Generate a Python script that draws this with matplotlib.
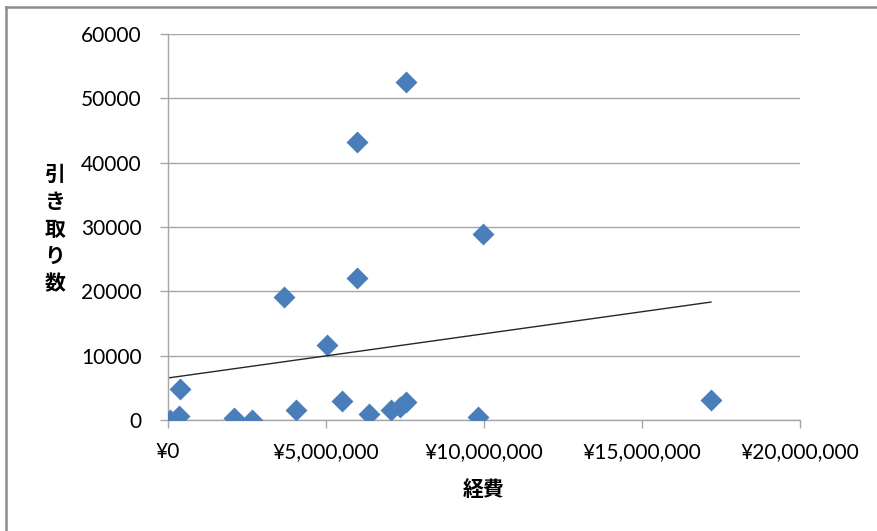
import numpy as np
import matplotlib
matplotlib.use("Agg")
import matplotlib.pyplot as plt
from matplotlib.lines import Line2D
from matplotlib.ticker import FuncFormatter

plt.rcParams['font.family'] = ['Lato', 'Noto Sans CJK JP', 'DejaVu Sans']

# expenses (yen) and number of pickups
expenses = [60000, 350000, 380000, 2090000, 2660000, 4050000, 5500000, 6360000,
            7060000, 7340000, 7530000, 9810000, 17180000, 3670000, 5030000,
            5980000, 5980000, 7530000, 9970000]
pickups = [50, 600, 4800, 300, 50, 1550, 2950, 930, 1550, 2000, 2800, 470, 3100,
           19100, 11700, 43200, 22100, 52500, 28900]

x_ticks = [0, 5000000, 10000000, 15000000, 20000000]
y_ticks = [0, 10000, 20000, 30000, 40000, 50000, 60000]
x_label = "経費"
y_label = "引き取り数"

fig = plt.figure(figsize=(8.77, 5.31), dpi=100)
ax = fig.add_axes([168 / 877, 1 - 420 / 531, (800 - 168) / 877, (420 - 34) / 531])

grid_col = "#a6a6a6"
ax.scatter(expenses, pickups, marker="D", s=125, color="#4a7ebb", zorder=3,
           linewidths=0)

# linear trendline over the data range
xs = np.array(expenses, dtype=float)
coef = np.polyfit(xs, np.array(pickups, dtype=float), 1)
tx = np.array([xs.min(), xs.max()])
ax.plot(tx, np.polyval(coef, tx), color="#262626", lw=1.0, zorder=4)

ax.set_xlim(0, 20000000)
ax.set_ylim(0, 60000)
ax.set_xticks(x_ticks)
ax.set_yticks(y_ticks)
ax.xaxis.set_major_formatter(FuncFormatter(lambda v, p: "¥{:,.0f}".format(v)))
ax.yaxis.set_major_formatter(FuncFormatter(lambda v, p: "{:.0f}".format(v)))

ax.grid(axis="y", color=grid_col, lw=1.0)
ax.set_axisbelow(True)
for s in ["top", "right"]:
    ax.spines[s].set_visible(False)
for s in ["left", "bottom"]:
    ax.spines[s].set_color(grid_col)
    ax.spines[s].set_linewidth(1.0)
ax.tick_params(axis="both", colors=grid_col, length=6, width=1.0,
               labelsize=15, labelcolor="black", direction="out")
ax.tick_params(axis="x", pad=10)
ax.tick_params(axis="y", pad=13)

fig.text(484 / 877, 1 - 490 / 531, x_label, ha="center", va="center",
         fontsize=15, family=["Noto Sans CJK JP"], weight="bold")
fig.text(55 / 877, 1 - 229 / 531, "\n".join(y_label), ha="center", va="center",
         fontsize=15, family=["Noto Sans CJK JP"], weight="bold", linespacing=1.38)

# outer chart border (left and top edges)
fig.add_artist(Line2D([6 / 877, 6 / 877], [0, 1 - 7 / 531], color="#8c8c8c",
                      lw=1.8, transform=fig.transFigure))
fig.add_artist(Line2D([6 / 877, 1], [1 - 7 / 531, 1 - 7 / 531], color="#8c8c8c",
                      lw=1.8, transform=fig.transFigure))

fig.savefig("out.png", dpi=100)
